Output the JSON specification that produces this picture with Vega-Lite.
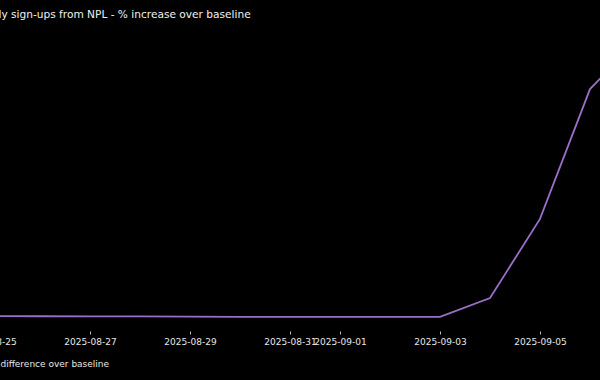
{
  "$schema": "https://vega.github.io/schema/vega-lite/v6.json",
  "width": 630,
  "height": 301,
  "autosize": {"type": "none"},
  "padding": {"left": -30, "top": 30, "right": 0, "bottom": 49},
  "background": "#000000",
  "title": {
    "text": "Daily sign-ups from NPL - % increase over baseline",
    "anchor": "start",
    "dx": 17,
    "offset": 9,
    "color": "#f0f0f0",
    "font": "DejaVu Sans",
    "fontSize": 10.6,
    "fontWeight": "normal"
  },
  "config": {
    "view": {"stroke": null},
    "axis": {"grid": false}
  },
  "data": {
    "values": [
      {"date": "2025-08-25", "pct": 0.2, "series": "% difference over baseline"},
      {"date": "2025-08-26", "pct": 0.15, "series": "% difference over baseline"},
      {"date": "2025-08-27", "pct": 0.1, "series": "% difference over baseline"},
      {"date": "2025-08-28", "pct": 0.1, "series": "% difference over baseline"},
      {"date": "2025-08-29", "pct": 0.0, "series": "% difference over baseline"},
      {"date": "2025-08-30", "pct": -0.05, "series": "% difference over baseline"},
      {"date": "2025-08-31", "pct": -0.1, "series": "% difference over baseline"},
      {"date": "2025-09-01", "pct": -0.1, "series": "% difference over baseline"},
      {"date": "2025-09-02", "pct": -0.1, "series": "% difference over baseline"},
      {"date": "2025-09-03", "pct": -0.1, "series": "% difference over baseline"},
      {"date": "2025-09-04", "pct": 6.5, "series": "% difference over baseline"},
      {"date": "2025-09-05", "pct": 34.1, "series": "% difference over baseline"},
      {"date": "2025-09-06", "pct": 79.4, "series": "% difference over baseline"},
      {"date": "2025-09-07", "pct": 97.5, "series": "% difference over baseline"}
    ]
  },
  "mark": {"type": "line", "clip": true, "strokeWidth": 1.8},
  "encoding": {
    "x": {
      "field": "date",
      "type": "temporal",
      "scale": {
        "type": "utc",
        "domain": [
          {"year": 2025, "month": 8, "date": 24, "hours": 14, "minutes": 24, "utc": true},
          {"year": 2025, "month": 9, "date": 6, "hours": 4, "minutes": 48, "utc": true}
        ]
      },
      "axis": {
        "title": null,
        "values": [
          {"year": 2025, "month": 8, "date": 25, "utc": true},
          {"year": 2025, "month": 8, "date": 27, "utc": true},
          {"year": 2025, "month": 8, "date": 29, "utc": true},
          {"year": 2025, "month": 8, "date": 31, "utc": true},
          {"year": 2025, "month": 9, "date": 1, "utc": true},
          {"year": 2025, "month": 9, "date": 3, "utc": true},
          {"year": 2025, "month": 9, "date": 5, "utc": true}
        ],
        "format": "%Y-%m-%d",
        "domain": false,
        "tickSize": 3,
        "tickColor": "#bbbbbb",
        "labelPadding": 3,
        "labelFont": "DejaVu Sans",
        "labelFontSize": 9,
        "labelColor": "#e8e8e8",
        "labelOverlap": false,
        "labelFlush": false
      }
    },
    "y": {
      "field": "pct",
      "type": "quantitative",
      "scale": {"domain": [-5, 100], "nice": false, "zero": false},
      "axis": null
    },
    "color": {
      "field": "series",
      "type": "nominal",
      "scale": {"range": ["#9b6fc9"]},
      "legend": {
        "title": null,
        "orient": "none",
        "legendX": -1,
        "legendY": 326,
        "padding": 0,
        "symbolType": "stroke",
        "symbolSize": 200,
        "symbolStrokeWidth": 1.8,
        "labelFont": "DejaVu Sans",
        "labelFontSize": 9,
        "labelColor": "#e8e8e8",
        "labelOffset": 4
      }
    }
  }
}
